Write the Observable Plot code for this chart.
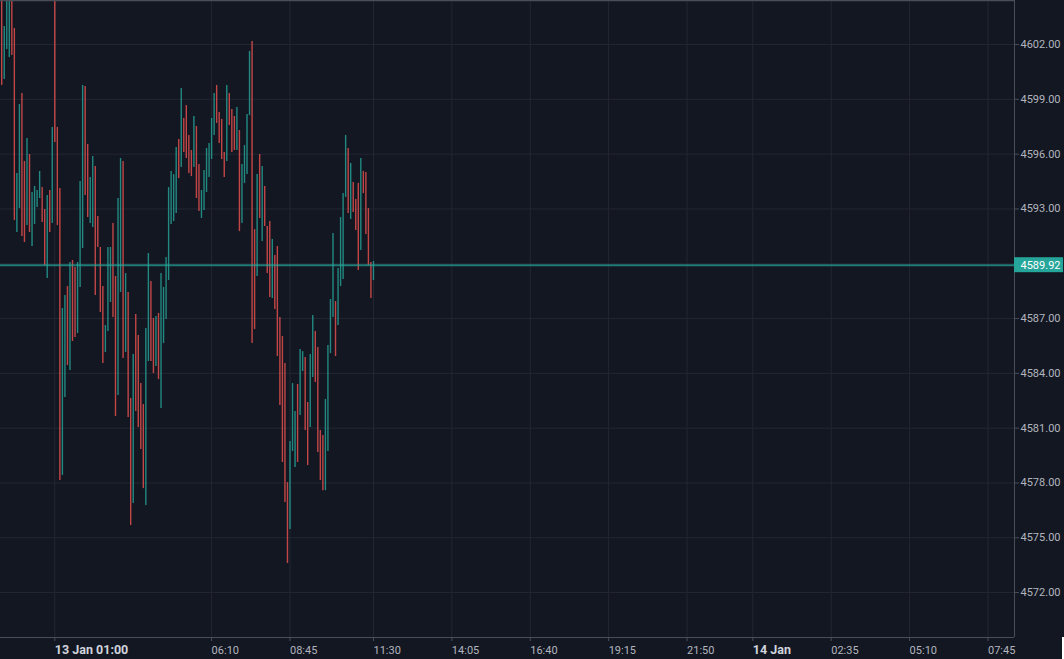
<!DOCTYPE html>
<html>
<head>
<meta charset="utf-8">
<script src="https://cdn.jsdelivr.net/npm/d3@7"></script>
<script src="https://cdn.jsdelivr.net/npm/@observablehq/plot@0.6"></script>
<style>
html, body { margin: 0; padding: 0; background: #131722; overflow: hidden; }
#chart { position: relative; width: 1064px; height: 659px; }
#corner { position: absolute; left: 1062px; top: 637px; width: 2px; height: 22px; background: #ffffff; }
</style>
</head>
<body>
<div id="chart"></div>
<script>
// ---- data (5-minute bars, first bar 12 Jan 23:15 UTC, last bar 13 Jan 11:30) ----
const startTime = "2022-01-12T23:15:00Z";
const barMinutes = 5;

const highs = [
  4605.0, 4602.99, 4605.2, 4605.6, 4605.4, 4602.88, 4594.94, 4598.72, 4599.32, 4595.60,
  4596.86, 4595.98, 4593.90, 4594.23, 4594.01, 4595.05, 4594.17, 4592.97, 4593.73, 4594.01,
  4597.46, 4606.8, 4597.46, 4594.12, 4587.55, 4588.26, 4588.75, 4590.07, 4590.18, 4589.79,
  4590.07, 4594.50, 4599.76, 4599.70, 4596.53, 4594.72, 4595.87, 4595.32, 4592.59, 4590.89,
  4588.75, 4586.62, 4590.89, 4590.89, 4592.20, 4589.30, 4593.57, 4595.76, 4595.60, 4589.46,
  4588.43, 4582.62, 4585.03, 4587.22, 4586.07, 4583.44, 4582.29, 4586.45, 4590.56, 4589.03,
  4587.00, 4587.11, 4587.28, 4589.46, 4588.70, 4590.34, 4594.17, 4595.05, 4594.88, 4596.36,
  4596.80, 4599.59, 4597.95, 4598.66, 4597.02, 4596.20, 4598.06, 4597.51, 4595.43, 4594.01,
  4595.10, 4596.31, 4596.58, 4597.95, 4599.32, 4599.76, 4598.28, 4597.90, 4596.09, 4599.76,
  4599.32, 4598.44, 4598.06, 4598.55, 4597.29, 4595.43, 4596.47, 4598.17, 4601.62, 4602.17,
  4591.87, 4594.88, 4595.98, 4595.32, 4594.23, 4592.04, 4592.31, 4591.33, 4590.45, 4590.94,
  4587.06, 4586.02, 4584.54, 4578.02, 4580.27, 4583.44, 4581.91, 4583.39, 4585.30, 4585.19,
  4584.87, 4582.40, 4585.03, 4587.17, 4586.29, 4585.41, 4580.87, 4580.60, 4582.57, 4585.52,
  4588.04, 4591.65, 4587.93, 4589.74, 4592.53, 4593.84, 4597.02, 4596.31, 4595.49, 4594.45,
  4593.52, 4594.39, 4595.76, 4595.05, 4594.99, 4593.02, 4590.07, 4590.12
];

const lows = [
  4599.76, 4600.09, 4601.73, 4601.29, 4601.40, 4592.37, 4591.71, 4593.02, 4591.49, 4591.16,
  4592.09, 4591.71, 4590.94, 4592.15, 4593.08, 4593.57, 4592.26, 4589.90, 4589.19, 4591.71,
  4592.20, 4596.64, 4592.09, 4578.13, 4578.41, 4582.68, 4584.43, 4584.15, 4585.74, 4585.96,
  4586.18, 4588.70, 4590.83, 4593.73, 4592.53, 4592.20, 4591.98, 4588.26, 4590.89, 4587.33,
  4584.54, 4585.14, 4586.29, 4587.88, 4587.06, 4581.64, 4582.79, 4588.43, 4584.81, 4585.14,
  4581.58, 4575.67, 4576.87, 4581.91, 4581.03, 4579.83, 4577.69, 4576.76, 4584.65, 4584.65,
  4583.99, 4584.37, 4583.66, 4582.07, 4585.63, 4586.95, 4589.08, 4592.15, 4592.31, 4592.75,
  4594.67, 4595.27, 4596.09, 4595.76, 4594.94, 4594.77, 4595.27, 4593.57, 4592.86, 4592.48,
  4592.91, 4593.90, 4594.72, 4595.71, 4597.02, 4597.68, 4596.58, 4595.71, 4594.72, 4595.60,
  4597.57, 4596.09, 4596.20, 4596.20, 4591.76, 4592.20, 4594.39, 4594.88, 4598.11, 4585.63,
  4586.40, 4589.30, 4592.48, 4591.22, 4592.04, 4589.46, 4588.15, 4588.10, 4587.49, 4584.92,
  4582.24, 4579.12, 4576.93, 4573.59, 4575.45, 4579.72, 4578.84, 4579.12, 4581.69, 4584.10,
  4580.87, 4578.95, 4581.03, 4583.77, 4583.50, 4579.67, 4578.13, 4577.58, 4577.58, 4579.72,
  4585.08, 4587.06, 4584.92, 4586.62, 4588.75, 4589.14, 4593.63, 4592.75, 4592.42, 4592.80,
  4591.82, 4589.63, 4590.72, 4593.84, 4591.60, 4589.90, 4588.10, 4589.08
];

// u = close above open (teal), d = close below open (red)
const directions = (
  "d u u u d d u u d d  u d u u u u d d u d " +
  "u d d d u u d u d d  u u u d d u u d d d " +
  "d u u u d d u u d u  d d u d d d d u u d " +
  "d u d u u u u u u u  d u d d d d u d d u " +
  "u u u u u d d d d u  d d d u d u u u u d " +
  "d u d u d d d u d d  d d d d u u u d u u " +
  "d d u u d d d d u u  u u d u u u u d u d " +
  "d d u d d d d u"
).trim().split(/\s+/);

const lastPrice = 4589.92;

const yTicks = [4572, 4575, 4578, 4581, 4584, 4587, 4590, 4593, 4596, 4599, 4602];
const yTickLabels = yTicks.map(v => v.toFixed(2));

const xTickTimes = [
  "2022-01-13T01:00:00Z", "2022-01-13T06:10:00Z", "2022-01-13T08:45:00Z", "2022-01-13T11:30:00Z",
  "2022-01-13T14:05:00Z", "2022-01-13T16:40:00Z", "2022-01-13T19:15:00Z", "2022-01-13T21:50:00Z",
  "2022-01-14T00:00:00Z", "2022-01-14T02:35:00Z", "2022-01-14T05:10:00Z", "2022-01-14T07:45:00Z"
];
const xTickLabels = ["13 Jan 01:00", "06:10", "08:45", "11:30", "14:05", "16:40", "19:15", "21:50", "14 Jan", "02:35", "05:10", "07:45"];
const xTickBold = [true, false, false, false, false, false, false, false, true, false, false, false];

// ---- build ----
const teal = "#26a69a", red = "#ef5350";
const t0 = new Date(startTime);
const bars = highs.map((h, i) => ({
  time: new Date(+t0 + i * barMinutes * 60000),
  high: h, low: lows[i], up: directions[i] === "u"
}));

const xTicks = xTickTimes.map(s => new Date(s));
const labelOf = new Map(xTicks.map((d, i) => [+d, xTickLabels[i]]));
const boldTicks = xTicks.filter((d, i) => xTickBold[i]);
const plainTicks = xTicks.filter((d, i) => !xTickBold[i]);

const xDomain = [new Date("2022-01-12T23:12:38Z"), new Date("2022-01-14T08:37:24Z")];
const yDomain = [4569.54, 4604.41];
const axisGap = 97 * 60000; // price-label width in time units (right axis strip)

const grid = "#232733", border = "#4a4e59";

const chart = Plot.plot({
  width: 1064,
  height: 659,
  marginTop: 0,
  marginLeft: 0,
  marginRight: 50,
  marginBottom: 22,
  x: {type: "utc", domain: xDomain},
  y: {domain: yDomain},
  style: {background: "#131722", color: "#b2b5be", fontFamily: "Roboto, 'DejaVu Sans', sans-serif", fontSize: "11px", overflow: "visible"},
  marks: [
    Plot.gridY(yTicks, {stroke: grid, strokeOpacity: 1}),
    Plot.gridX(xTicks, {stroke: grid, strokeOpacity: 1}),
    Plot.ruleX(bars, {x: "time", y1: "low", y2: "high", stroke: d => d.up ? teal : red, strokeWidth: 1.4, strokeOpacity: 0.8, shapeRendering: "geometricPrecision", clip: true}),
    Plot.ruleY([lastPrice], {stroke: teal, strokeWidth: 2, strokeOpacity: 0.7}),
    Plot.ruleY([yDomain[1]], {stroke: border, strokeWidth: 1.5}),
    Plot.ruleY([yDomain[0]], {stroke: border}),
    Plot.ruleX([xDomain[1]], {stroke: border}),
    Plot.axisY(yTicks, {anchor: "right", tickSize: 4, tickPadding: 2, tickFormat: d => yTickLabels[yTicks.indexOf(d)], stroke: border, fill: "#b2b5be", label: null}),
    Plot.axisX(plainTicks, {anchor: "bottom", tickSize: 4, tickPadding: 5, textAnchor: "start", tickFormat: d => labelOf.get(+d), stroke: border, fill: "#b2b5be", label: null}),
    Plot.axisX(boldTicks, {anchor: "bottom", tickSize: 4, tickPadding: 4, textAnchor: "start", tickFormat: d => labelOf.get(+d), stroke: border, fill: "#d1d4dc", fontWeight: "bold", fontSize: 12.5, label: null}),
    Plot.rect([lastPrice], {x1: () => xDomain[1], x2: () => new Date(+xDomain[1] + axisGap), y1: d => d - 0.41, y2: d => d + 0.41, fill: teal}),
    Plot.text([lastPrice], {x: () => xDomain[1], y: d => d, text: d => d.toFixed(2), textAnchor: "start", dx: 6, fill: "#ffffff", fontSize: 11})
  ]
});

const host = document.getElementById("chart");
host.appendChild(chart);
const corner = document.createElement("div");
corner.id = "corner";
host.appendChild(corner);
</script>
</body>
</html>
